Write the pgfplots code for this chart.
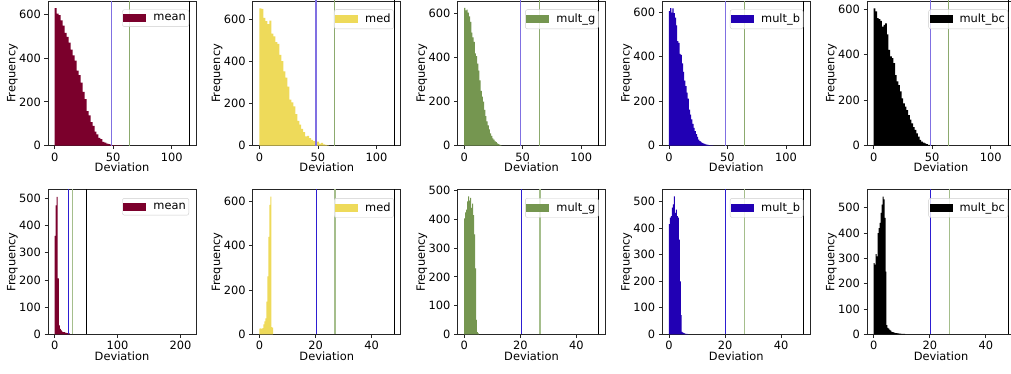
\documentclass[border=0pt]{standalone}
\usepackage{fontspec}
\setmainfont{DejaVu Sans}
\usepackage{pgfplots}
\pgfplotsset{compat=1.18}
\definecolor{cmean}{RGB}{123,0,44}
\definecolor{cmed}{RGB}{238,218,90}
\definecolor{cmg}{RGB}{117,150,80}
\definecolor{cmb}{RGB}{33,0,180}
\definecolor{cmbc}{RGB}{0,0,0}
\definecolor{lblueA}{RGB}{128,112,226}
\definecolor{lgreenA}{RGB}{140,170,110}
\definecolor{lblueB}{RGB}{45,30,210}
\definecolor{lgreenB}{RGB}{165,190,140}
\pgfplotsset{
 hbase/.style={
  scale only axis, width=148pt, height=144.7pt, anchor=south west,
  ymin=0,
  axis line style={black!85, line width=0.8pt},
  tick align=outside, major tick length=3.5pt,
  tick style={black!85, line width=0.8pt},
  xtick pos=lower, ytick pos=left,
  xlabel=Deviation, ylabel=Frequency,
  xlabel style={at={(axis description cs:0.5,-0.152)}, anchor=center},
  ylabel style={at={(axis description cs:-0.24,0.5)}, anchor=center},
  font=\fontsize{11.4}{13}\selectfont,
  /pgf/number format/assume math mode=true,
  scaled ticks=false,
  legend style={at={(1,1)}, anchor=north east, xshift=-7pt, yshift=-8.5pt,
    draw=black!20, rounded corners=2pt, fill=white, fill opacity=0.8,
    text opacity=1, draw opacity=1, inner xsep=1pt, inner ysep=2.5pt,
    column sep=5pt,
    font=\fontsize{11.4}{13}\selectfont},
  legend image code/.code={\fill[#1, fill opacity=1, sharp corners] (0pt,-4pt) rectangle (23pt,4pt);},
  legend cell align=left,
 },
 toprow/.style={hbase, xmin=-5.75, xmax=120.75, xtick={0,50,100}, ytick={0,200,400,600}},
 botrow/.style={hbase, xmin=-2.4, xmax=50.4, xtick={0,20,40}},
}
\begin{document}
\begin{tikzpicture}
% ---------------- top row ----------------
\begin{axis}[toprow, at={(48pt,227.3pt)}, ymax=660]
\addplot[ybar interval, fill=cmean, draw=none] coordinates {(0,628) (1.7,602) (3.4,596) (5.1,572) (6.8,548) (8.5,515) (10.2,496) (11.9,470) (13.6,438) (15.3,412) (17,388) (18.7,342) (20.4,322) (22.1,288) (23.8,246) (25.5,212) (27.2,158) (28.9,138) (30.6,108) (32.3,90) (34,64) (35.7,52) (37.4,36) (39.1,30) (40.8,18) (42.5,14) (44.2,9) (45.9,7) (47.6,4) (49.3,3) (51,2) (52.7,2) (54.4,1) (56.1,1) (57.8,0)};
\addlegendentry{mean}
\addplot[forget plot, lblueA, line width=1.4pt] coordinates {(48.3,0) (48.3,700)};
\addplot[forget plot, lgreenA, line width=1pt] coordinates {(64.3,0) (64.3,700)};
\addplot[forget plot, black, line width=1pt] coordinates {(115,0) (115,700)};
\end{axis}
\begin{axis}[toprow, at={(252.75pt,227.3pt)}, ymax=685]
\addplot[ybar interval, fill=cmed, draw=none] coordinates {(0,650) (1.7,648) (3.4,605) (5.1,590) (6.8,575) (8.5,592) (10.2,530) (11.9,518) (13.6,490) (15.3,482) (17,430) (18.7,400) (20.4,352) (22.1,322) (23.8,280) (25.5,218) (27.2,205) (28.9,186) (30.6,150) (32.3,118) (34,100) (35.7,80) (37.4,64) (39.1,44) (40.8,46) (42.5,36) (44.2,28) (45.9,22) (47.6,18) (49.3,19) (51,10) (52.7,13) (54.4,6) (56.1,4) (57.8,2) (59.5,0)};
\addlegendentry{med}
\addplot[forget plot, lblueA, line width=1.4pt] coordinates {(48.3,0) (48.3,700)};
\addplot[forget plot, lgreenA, line width=1pt] coordinates {(64.3,0) (64.3,700)};
\addplot[forget plot, black, line width=1pt] coordinates {(115,0) (115,700)};
\end{axis}
\begin{axis}[toprow, at={(457.5pt,227.3pt)}, ymax=655]
\addplot[ybar interval, fill=cmg, draw=none] coordinates {(0,624) (1,612) (2,616) (3,602) (4,585) (5,560) (6,512) (7,490) (8,470) (9,418) (10,405) (11,372) (12,340) (13,296) (14,248) (15,222) (16,200) (17,162) (18,134) (19,110) (20,92) (21,74) (22,56) (23,44) (24,33) (25,27) (26,20) (27,16) (28,11) (29,7) (30,4) (31,2) (32,0)};
\addlegendentry{mult\_g}
\addplot[forget plot, lblueA, line width=1.4pt] coordinates {(48.3,0) (48.3,700)};
\addplot[forget plot, lgreenA, line width=1pt] coordinates {(64.3,0) (64.3,700)};
\addplot[forget plot, black, line width=1pt] coordinates {(115,0) (115,700)};
\end{axis}
\begin{axis}[toprow, at={(662.25pt,227.3pt)}, ymax=650]
\addplot[ybar interval, fill=cmb, draw=none] coordinates {(0,605) (1,618) (2,598) (3,617) (4,596) (5,575) (6,540) (7,470) (8,462) (9,412) (10,408) (11,370) (12,332) (13,292) (14,268) (15,238) (16,212) (17,162) (18,140) (19,118) (20,98) (21,80) (22,66) (23,52) (24,40) (25,27) (26,20) (27,17) (28,13) (29,10) (30,8) (31,6) (32,5) (33,4) (34,3) (35,2) (36,1) (37,1) (38,0)};
\addlegendentry{mult\_b}
\addplot[forget plot, lblueA, line width=1.4pt] coordinates {(48.3,0) (48.3,700)};
\addplot[forget plot, lgreenA, line width=1pt] coordinates {(64.3,0) (64.3,700)};
\addplot[forget plot, black, line width=1pt] coordinates {(115,0) (115,700)};
\end{axis}
\begin{axis}[toprow, at={(867pt,227.3pt)}, ymax=635]
\addplot[ybar interval, fill=cmbc, draw=none] coordinates {(0,603) (1.4,590) (2.8,560) (4.2,556) (5.6,548) (7,522) (8.4,530) (9.8,537) (11.2,488) (12.6,420) (14,392) (15.4,384) (16.8,362) (18.2,310) (19.6,282) (21,266) (22.4,238) (23.8,208) (25.2,186) (26.6,172) (28,156) (29.4,134) (30.8,114) (32.2,98) (33.6,82) (35,70) (36.4,54) (37.8,40) (39.2,26) (40.6,18) (42,13) (43.4,10) (44.8,7) (46.2,4) (47.6,4) (49,3) (50.4,2) (51.8,1) (53.2,0)};
\addlegendentry{mult\_bc}
\addplot[forget plot, lblueA, line width=1.4pt] coordinates {(48.3,0) (48.3,700)};
\addplot[forget plot, lgreenA, line width=1pt] coordinates {(64.3,0) (64.3,700)};
\addplot[forget plot, black, line width=1pt] coordinates {(115,0) (115,700)};
\end{axis}
% ---------------- bottom row ----------------
\begin{axis}[hbase, at={(48pt,38.7pt)}, xmin=-10.7, xmax=224.7, xtick={0,100,200}, ymax=532, ytick={0,100,200,300,400,500}]
\addplot[ybar interval, fill=cmean, draw=none] coordinates {(0,362) (1.6,474) (3.2,505) (4.8,206) (6.4,33) (8,20) (9.6,14) (11.2,10) (12.8,8) (14.4,8) (16,6) (17.6,5) (19.2,4) (20.8,4) (22.4,3) (24,0)};
\addlegendentry{mean}
\addplot[forget plot, lblueB, line width=1pt] coordinates {(21.5,0) (21.5,700)};
\addplot[forget plot, lgreenB, line width=1.6pt] coordinates {(28.5,0) (28.5,700)};
\addplot[forget plot, black, line width=1pt] coordinates {(50.5,0) (50.5,700)};
\end{axis}
\begin{axis}[botrow, at={(252.75pt,38.7pt)}, ymax=654, ytick={0,200,400,600}]
\addplot[ybar interval, fill=cmed, draw=none] coordinates {(0,26) (0.35,27) (0.7,25) (1.05,28) (1.4,45) (1.75,58) (2.1,72) (2.45,148) (2.8,262) (3.15,440) (3.5,585) (3.85,622) (4.2,33) (4.55,30) (4.9,0)};
\addlegendentry{med}
\addplot[forget plot, lblueB, line width=1pt] coordinates {(20.3,0) (20.3,700)};
\addplot[forget plot, lgreenB, line width=1.6pt] coordinates {(27,0) (27,700)};
\addplot[forget plot, black, line width=1pt] coordinates {(48,0) (48,700)};
\end{axis}
\begin{axis}[botrow, at={(457.5pt,38.7pt)}, ymax=504, ytick={0,100,200,300,400,500}]
\addplot[ybar interval, fill=cmg, draw=none] coordinates {(0,404) (0.35,425) (0.7,434) (1.05,463) (1.4,480) (1.75,466) (2.1,475) (2.45,440) (2.8,455) (3.15,415) (3.5,348) (3.85,230) (4.2,50) (4.55,8) (4.9,3) (5.25,0)};
\addlegendentry{mult\_g}
\addplot[forget plot, lblueB, line width=1pt] coordinates {(20.3,0) (20.3,700)};
\addplot[forget plot, lgreenB, line width=1.6pt] coordinates {(27,0) (27,700)};
\addplot[forget plot, black, line width=1pt] coordinates {(48,0) (48,700)};
\end{axis}
\begin{axis}[botrow, at={(662.25pt,38.7pt)}, ymax=546, ytick={0,100,200,300,400,500}]
\addplot[ybar interval, fill=cmb, draw=none] coordinates {(0,416) (0.35,440) (0.7,446) (1.05,478) (1.4,490) (1.75,520) (2.1,458) (2.45,470) (2.8,446) (3.15,440) (3.5,357) (3.85,200) (4.2,72) (4.55,9) (4.9,6) (5.25,4) (5.6,3) (5.95,2) (6.3,2) (6.65,1) (7,0)};
\addlegendentry{mult\_b}
\addplot[forget plot, lblueB, line width=1pt] coordinates {(20.3,0) (20.3,700)};
\addplot[forget plot, lgreenB, line width=1.6pt] coordinates {(27,0) (27,700)};
\addplot[forget plot, black, line width=1pt] coordinates {(48,0) (48,700)};
\end{axis}
\begin{axis}[botrow, at={(867pt,38.7pt)}, ymax=572, ytick={0,100,200,300,400,500}]
\addplot[ybar interval, fill=cmbc, draw=none] coordinates {(0,281) (0.35,275) (0.7,317) (1.05,308) (1.4,400) (1.75,420) (2.1,440) (2.45,480) (2.8,513) (3.15,544) (3.5,533) (3.85,460) (4.2,248) (4.55,36) (4.9,25) (5.25,22) (5.6,18) (5.95,15) (6.3,10) (6.65,9) (7,8) (7.35,6) (7.7,5) (8.05,5) (8.4,4) (8.75,4) (9.1,3) (9.45,3) (9.8,2) (10.15,2) (10.5,2) (10.85,2) (11.2,0)};
\addlegendentry{mult\_bc}
\addplot[forget plot, lblueB, line width=1pt] coordinates {(20.3,0) (20.3,700)};
\addplot[forget plot, lgreenB, line width=1.6pt] coordinates {(27,0) (27,700)};
\addplot[forget plot, black, line width=1pt] coordinates {(48,0) (48,700)};
\end{axis}
\pgfresetboundingbox
\path (0pt,0pt) rectangle (1011pt,373pt);
\end{tikzpicture}
\end{document}
